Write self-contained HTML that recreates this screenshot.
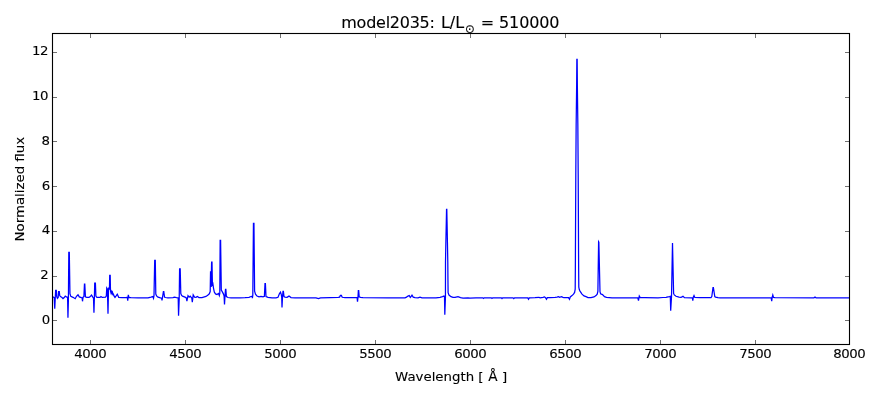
<!DOCTYPE html>
<html lang="en"><head><meta charset="utf-8"><title>model2035</title>
<style>html,body{margin:0;padding:0;background:#fff;}body{width:880px;height:400px;overflow:hidden;}svg{display:block;}text{font-family:'DejaVu Sans','Liberation Sans',sans-serif;fill:#000;stroke:#000;stroke-width:.12px;}</style></head><body>
<svg width="880" height="400" viewBox="0 0 880 400">
<rect x="0" y="0" width="880" height="400" fill="#fff"/>
<polyline fill="none" stroke="#0000ff" stroke-width="1.25" stroke-linejoin="miter" stroke-linecap="butt" points="52.50,296.7 53.30,297.1 54.20,297.7 54.75,308.6 55.30,297.1 55.65,290.4 56.30,290.4 56.70,296.6 57.40,298.3 58.20,297.4 58.55,291.5 59.30,291.5 59.70,295.6 60.50,296.6 62.00,297.6 63.00,298.6 64.20,297.6 65.25,296.1 66.30,296.9 67.20,297.1 67.60,298.1 67.95,317.7 68.40,300.1 68.80,252.4 69.30,252.4 69.95,293.6 70.80,296.4 73.00,297.3 75.20,298.7 76.50,296.3 78.00,294.7 79.30,296.9 81.50,297.7 82.10,297.9 82.50,301.3 83.00,297.3 83.90,296.6 84.45,284.0 84.80,284.0 85.40,296.6 86.00,297.1 87.00,297.3 89.00,297.3 90.00,296.8 91.50,295.1 92.80,297.1 93.50,298.1 93.95,312.7 94.40,297.1 94.70,283.1 95.40,283.1 95.90,296.1 96.60,297.1 97.50,297.4 100.00,297.4 101.00,296.5 102.20,297.4 105.50,297.2 106.30,296.1 106.75,288.0 107.40,289.1 108.00,313.7 108.55,287.4 109.10,289.1 109.45,289.1 109.70,275.4 110.20,275.4 110.50,291.1 111.00,292.9 111.50,291.6 112.00,293.5 112.50,292.3 113.00,294.7 113.50,294.3 114.00,295.9 115.00,297.4 116.30,295.7 117.30,294.2 118.70,297.3 122.00,297.7 126.00,297.6 127.30,297.3 127.75,300.7 128.30,294.9 129.00,297.4 131.00,297.7 138.00,297.8 148.00,297.8 151.00,297.1 152.80,296.6 153.50,298.3 154.00,295.6 154.70,260.4 155.30,260.4 155.80,294.1 156.60,295.9 158.00,297.1 160.50,297.9 161.60,298.1 162.00,300.5 162.70,296.1 163.40,291.5 163.80,291.5 164.50,297.1 165.40,297.5 168.00,297.8 173.00,297.7 174.50,297.1 176.50,297.6 178.20,297.9 178.55,315.7 179.20,299.1 179.60,268.8 180.20,268.8 180.80,293.6 181.60,295.4 182.50,296.1 185.00,297.1 186.30,297.9 186.90,301.2 188.00,295.6 189.20,297.1 190.20,296.1 191.00,297.1 191.80,298.1 192.30,302.2 193.20,294.9 194.50,297.1 196.00,297.3 197.30,296.4 199.00,297.6 202.00,297.6 206.00,296.4 208.00,295.1 209.30,293.8 210.20,291.6 210.55,271.2 211.10,287.1 211.60,262.2 212.00,262.2 212.40,284.6 212.90,283.8 213.50,288.1 214.30,292.1 215.50,293.9 217.00,294.6 218.50,293.5 219.30,295.5 219.80,293.1 220.15,240.4 220.60,240.4 221.30,290.1 222.50,292.1 223.50,294.1 224.10,296.1 224.50,304.5 225.00,296.1 225.50,289.3 225.85,289.3 226.40,296.6 228.00,297.5 231.00,297.8 240.00,297.9 245.00,297.7 249.00,297.3 251.00,296.5 252.00,296.3 252.40,298.1 252.80,295.1 253.45,223.4 253.95,223.4 254.60,291.1 255.50,294.1 257.00,296.1 259.00,296.9 261.00,296.4 263.00,296.9 264.40,296.4 265.00,283.5 265.40,283.5 266.00,296.6 268.00,297.4 272.00,297.9 276.00,297.9 278.00,297.3 279.50,293.6 280.50,292.1 281.30,294.6 281.70,297.1 282.00,307.4 282.50,297.1 283.00,291.4 283.40,291.4 284.00,296.6 285.00,297.1 287.00,297.3 289.00,296.1 291.00,297.6 295.00,297.8 302.00,297.8 316.00,297.8 318.50,298.7 320.50,297.9 330.00,297.7 338.00,297.4 339.60,297.1 340.40,295.4 341.40,295.4 342.20,297.3 345.00,297.7 355.00,297.7 357.10,297.6 357.50,301.7 358.00,297.1 358.35,290.6 358.70,290.6 359.20,296.9 360.50,297.4 363.00,297.7 388.00,297.9 405.00,297.9 406.50,297.1 408.00,296.1 409.20,295.5 410.30,297.4 411.00,296.6 412.00,295.1 413.20,297.1 415.00,297.6 418.00,297.9 420.00,297.1 422.00,297.9 436.00,297.8 440.00,297.3 442.50,296.7 444.00,296.1 444.50,296.6 444.80,314.7 445.45,297.1 445.50,262.1 445.85,243.1 446.30,222.1 446.55,209.4 446.80,209.4 447.05,222.1 447.45,243.1 447.80,262.1 447.95,280.1 448.10,292.6 449.00,295.1 451.00,296.7 453.00,297.4 455.00,297.4 458.00,296.6 460.50,297.6 463.00,298.1 468.00,297.9 470.00,298.1 476.00,297.8 482.80,297.8 483.50,298.4 484.20,297.8 491.30,297.8 492.00,298.4 492.70,297.8 501.30,297.8 502.00,298.5 502.70,297.8 513.00,297.8 513.80,298.6 514.60,297.8 527.80,297.9 528.50,299.2 529.30,297.9 535.00,297.6 539.00,297.3 540.00,297.8 543.00,297.4 544.50,296.9 545.50,297.6 546.50,299.2 547.30,297.7 550.00,297.7 555.00,297.4 557.00,297.1 558.50,296.6 559.50,297.3 561.50,296.6 563.00,297.3 564.00,297.6 568.50,297.6 569.50,299.3 570.30,296.9 572.00,295.6 573.50,294.1 574.60,292.4 575.20,289.1 575.35,270.1 575.80,175.1 576.15,125.1 576.65,85.1 576.85,59.4 577.15,59.4 577.35,85.1 577.85,125.1 578.20,175.1 578.65,270.1 578.80,287.1 579.30,289.6 580.00,291.1 582.00,294.1 584.00,295.9 586.00,296.6 588.00,297.6 591.00,297.6 594.00,296.9 596.00,295.6 597.20,294.1 597.90,291.1 598.60,241.7 598.85,242.1 600.00,291.6 600.60,293.9 602.50,294.6 604.50,296.6 606.50,297.3 612.00,297.9 628.00,297.8 637.80,297.8 638.50,300.7 639.30,296.1 640.20,297.6 645.00,297.7 658.00,297.8 663.00,297.5 666.00,297.3 668.00,296.9 669.50,296.6 670.30,296.3 670.70,310.7 671.50,297.1 672.50,242.9 673.60,293.4 674.30,294.9 676.00,296.3 679.00,297.1 681.00,297.3 682.00,296.9 683.00,296.3 684.50,297.6 692.00,297.8 692.40,297.9 692.80,300.7 693.30,297.1 694.00,295.5 694.80,297.5 700.00,297.6 711.00,297.6 711.80,296.6 713.00,287.6 713.40,287.6 714.80,296.6 715.50,297.1 718.00,297.7 720.00,297.8 750.00,297.8 770.00,297.8 771.20,297.7 771.70,301.2 772.20,297.1 772.80,295.0 773.50,297.4 775.00,297.7 814.00,297.8 815.00,297.1 816.00,297.8 849.50,297.8"/>
<path d="M90.5 344.5V340.0M90.5 33.5V38.0M185.5 344.5V340.0M185.5 33.5V38.0M280.5 344.5V340.0M280.5 33.5V38.0M375.5 344.5V340.0M375.5 33.5V38.0M470.5 344.5V340.0M470.5 33.5V38.0M565.5 344.5V340.0M565.5 33.5V38.0M660.5 344.5V340.0M660.5 33.5V38.0M755.5 344.5V340.0M755.5 33.5V38.0M849.5 344.5V340.0M849.5 33.5V38.0M52.5 320.5H57.0M849.5 320.5H845.0M52.5 276.5H57.0M849.5 276.5H845.0M52.5 231.5H57.0M849.5 231.5H845.0M52.5 186.5H57.0M849.5 186.5H845.0M52.5 141.5H57.0M849.5 141.5H845.0M52.5 97.5H57.0M849.5 97.5H845.0M52.5 52.5H57.0M849.5 52.5H845.0" stroke="#000" stroke-width="0.56" fill="none"/>
<rect x="52.5" y="33.5" width="797.0" height="311.0" fill="none" stroke="#000" stroke-width="1.11"/>
<text transform="translate(90.20,358.3) scale(1,.94)" font-size="13.33" letter-spacing="-0.45" text-anchor="middle">4000</text>
<text transform="translate(185.20,358.3) scale(1,.94)" font-size="13.33" letter-spacing="-0.45" text-anchor="middle">4500</text>
<text transform="translate(280.20,358.3) scale(1,.94)" font-size="13.33" letter-spacing="-0.45" text-anchor="middle">5000</text>
<text transform="translate(375.20,358.3) scale(1,.94)" font-size="13.33" letter-spacing="-0.45" text-anchor="middle">5500</text>
<text transform="translate(470.20,358.3) scale(1,.94)" font-size="13.33" letter-spacing="-0.45" text-anchor="middle">6000</text>
<text transform="translate(565.20,358.3) scale(1,.94)" font-size="13.33" letter-spacing="-0.45" text-anchor="middle">6500</text>
<text transform="translate(660.20,358.3) scale(1,.94)" font-size="13.33" letter-spacing="-0.45" text-anchor="middle">7000</text>
<text transform="translate(755.20,358.3) scale(1,.94)" font-size="13.33" letter-spacing="-0.45" text-anchor="middle">7500</text>
<text transform="translate(849.20,358.3) scale(1,.94)" font-size="13.33" letter-spacing="-0.45" text-anchor="middle">8000</text>
<text transform="translate(48.00,55.15) scale(1,.94)" font-size="13.33" letter-spacing="-0.45" text-anchor="end">12</text>
<text transform="translate(48.10,100.15) scale(1,.94)" font-size="13.33" letter-spacing="-0.45" text-anchor="end">10</text>
<text transform="translate(49.60,145.15) scale(1,.94)" font-size="13.33" letter-spacing="-0.45" text-anchor="end">8</text>
<text transform="translate(49.85,190.15) scale(1,.94)" font-size="13.33" letter-spacing="-0.45" text-anchor="end">6</text>
<text transform="translate(49.85,234.15) scale(1,.94)" font-size="13.33" letter-spacing="-0.45" text-anchor="end">4</text>
<text transform="translate(48.35,279.15) scale(1,.94)" font-size="13.33" letter-spacing="-0.45" text-anchor="end">2</text>
<text transform="translate(49.85,324.15) scale(1,.94)" font-size="13.33" letter-spacing="-0.45" text-anchor="end">0</text>
<text transform="translate(395.1,380.9) scale(1,.94)" font-size="13.33">Wavelength [</text>
<text x="488.2" y="380.9" font-family="'Liberation Serif','DejaVu Serif',serif" font-size="13.6">Å</text>
<text transform="translate(501.9,380.9) scale(1,.94)" font-size="13.33">]</text>
<text transform="translate(23.5,189.2) rotate(-90) scale(1,.94)" font-size="13.33" text-anchor="middle">Normalized flux</text>
<text transform="translate(341.3,27.7) scale(1,.95)" font-size="16" letter-spacing="-0.25">model2035:</text>
<text transform="translate(440.9,27.7) scale(1,.95)" font-size="16">L/L</text>
<text x="469.9" y="32.8" font-family="'DejaVu Math TeX Gyre','DejaVu Sans',sans-serif" font-size="11.7" text-anchor="middle">⊙</text>
<text transform="translate(480.8,27.7) scale(1,.95)" font-size="16" letter-spacing="-0.12">= 510000</text>
</svg></body></html>
